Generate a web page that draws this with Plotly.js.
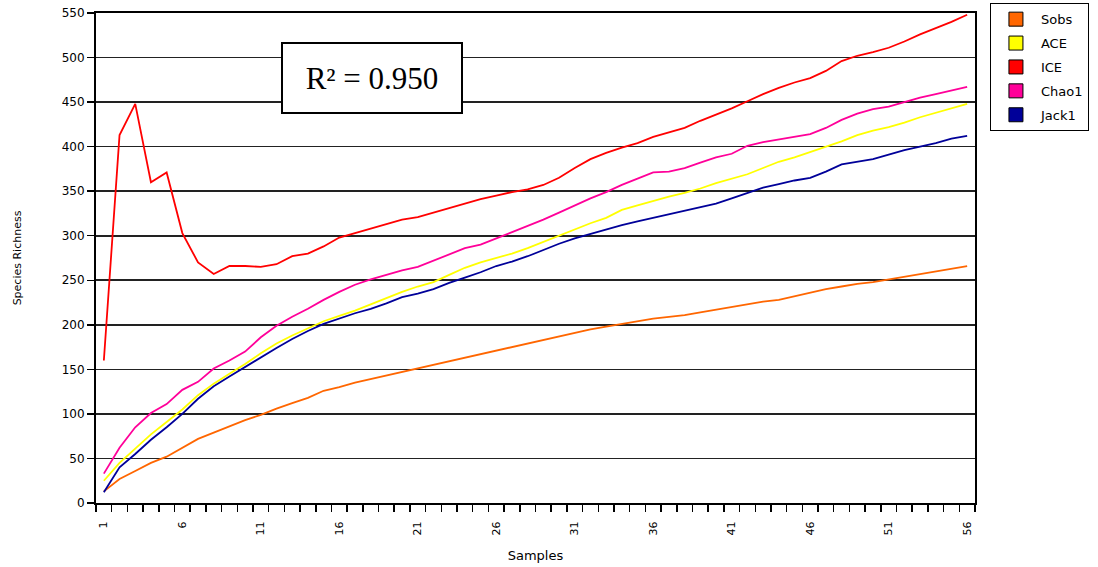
<!DOCTYPE html>
<html>
<head>
<meta charset="utf-8">
<script src="https://cdn.plot.ly/plotly-3.0.1.min.js"></script>
<style>html,body{margin:0;padding:0;background:#fff;}#chart{width:1098px;height:567px;}</style>
</head>
<body>
<div id="chart"></div>
<script>
const samples = Array.from({length: 56}, (_, i) => i + 1);
const tickVals = [1, 6, 11, 16, 21, 26, 31, 36, 41, 46, 51, 56];
const tickText = ["1", "6", "11", "16", "21", "26", "31", "36", "41", "46", "51", "56"];
const yTicks = [0, 50, 100, 150, 200, 250, 300, 350, 400, 450, 500, 550];

const sobs = [13, 27, 36, 45, 52, 62, 72, 79, 86, 93, 99, 106, 112, 118, 126, 130, 135, 139, 143, 147,
  151, 155, 159, 163, 167, 171, 175, 179, 183, 187, 191, 195, 198, 201, 204, 207, 209, 211, 214, 217,
  220, 223, 226, 228, 232, 236, 240, 243, 246, 248, 251, 254, 257, 260, 263, 266];
const ace = [25, 45, 61, 77, 91, 105, 121, 134, 145, 156, 168, 179, 188, 196, 204, 210, 216, 223, 230, 237,
  243, 248, 256, 264, 270, 275, 280, 286, 293, 300, 307, 314, 320, 329, 334, 339, 344, 348, 353, 359,
  364, 369, 376, 383, 388, 394, 400, 406, 413, 418, 422, 427, 433, 438, 443, 448];
const ice = [160, 413, 448, 360, 371, 303, 270, 257, 266, 266, 265, 268, 277, 280, 288, 298, 303, 308, 313, 318,
  321, 326, 331, 336, 341, 345, 349, 352, 357, 365, 376, 386, 393, 399, 404, 411, 416, 421, 429, 436,
  443, 451, 459, 466, 472, 477, 485, 496, 502, 506, 511, 518, 526, 533, 540, 548];
const chao1 = [33, 62, 85, 101, 111, 127, 136, 151, 160, 170, 186, 199, 209, 218, 228, 237, 245, 251, 256, 261,
  265, 272, 279, 286, 290, 297, 304, 311, 318, 326, 334, 342, 349, 357, 364, 371, 372, 376, 382, 388,
  392, 401, 405, 408, 411, 414, 421, 430, 437, 442, 445, 450, 455, 459, 463, 467];
const jack1 = [12, 40, 55, 71, 85, 100, 117, 131, 142, 153, 163, 174, 184, 193, 201, 207, 213, 218, 224, 231,
  235, 240, 247, 253, 259, 266, 271, 277, 284, 291, 297, 302, 307, 312, 316, 320, 324, 328, 332, 336,
  342, 348, 354, 358, 362, 365, 372, 380, 383, 386, 391, 396, 400, 404, 409, 412];

const seriesNames = ["Sobs", "ACE", "ICE", "Chao1", "Jack1"];
const seriesData = [sobs, ace, ice, chao1, jack1];
const seriesColors = ["#FF6600", "#FFFF00", "#FF0000", "#FF0099", "#000099"];
const r2Text = "R² = 0.950";

const traces = [];
// draw order: Sobs, Jack1, ACE, Chao1, ICE
[0, 4, 1, 3, 2].forEach(i => {
  traces.push({
    x: samples, y: seriesData[i], type: 'scatter', mode: 'lines',
    line: {color: seriesColors[i], width: 1.8},
    name: seriesNames[i], showlegend: false, hoverinfo: 'skip'
  });
});
seriesNames.forEach((n, i) => {
  traces.push({
    x: [null], y: [null], type: 'scatter', mode: 'markers', name: n,
    legendgroup: 'g' + i,
    marker: {symbol: 'square', size: 14, color: seriesColors[i], line: {color: '#000', width: 1}}
  });
});

const layout = {
  width: 1098, height: 567,
  margin: {l: 96, r: 123, t: 13, b: 64, autoexpand: false},
  paper_bgcolor: '#fff', plot_bgcolor: '#fff',
  font: {family: 'DejaVu Sans, Arial, sans-serif', size: 12, color: '#000'},
  xaxis: {
    range: [0.5, 56.5], tickmode: 'array', tickvals: tickVals, ticktext: tickText,
    tickangle: -90, ticks: '', tickfont: {size: 11}, ticklabelstandoff: 12,
    showgrid: false, zeroline: false, showline: true, linecolor: '#000', linewidth: 2, mirror: true,
    minor: {tick0: 0.5, dtick: 1, ticks: 'outside', ticklen: 7, tickcolor: '#000', tickwidth: 1.5, showgrid: false},
    title: {text: 'Samples', font: {size: 13}, standoff: 16}
  },
  yaxis: {
    range: [0, 550], tickmode: 'array', tickvals: yTicks,
    ticks: 'outside', ticklen: 7, tickcolor: '#000', tickwidth: 1.5, tickfont: {size: 12},
    showgrid: true, gridcolor: '#222', gridwidth: 1.6, zeroline: false,
    showline: true, linecolor: '#000', linewidth: 2, mirror: true,
    title: {text: 'Species Richness', font: {size: 11}, standoff: 38}
  },
  legend: {
    x: 1.017, xanchor: 'left', y: 1.02, yanchor: 'top',
    bordercolor: '#000', borderwidth: 1, bgcolor: '#fff',
    font: {size: 13}, traceorder: 'grouped', tracegroupgap: 4, itemwidth: 40
  },
  annotations: [{
    xref: 'paper', yref: 'paper', x: 0.314, y: 0.867, xanchor: 'center', yanchor: 'middle',
    text: r2Text, showarrow: false, width: 176, height: 66,
    font: {family: 'Liberation Serif, Times New Roman, serif', size: 31, color: '#000'},
    bgcolor: '#fff', bordercolor: '#000', borderwidth: 2
  }],
  showlegend: true
};

Plotly.newPlot('chart', traces, layout, {displayModeBar: false, staticPlot: true});
</script>
</body>
</html>
